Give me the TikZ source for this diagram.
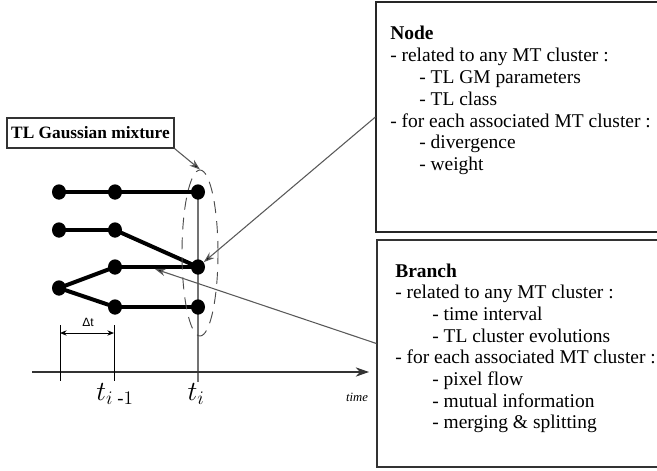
\documentclass[tikz,border=0pt]{standalone}
\usepackage{amsmath}
\usepackage{fontspec}
\setmainfont{Liberation Serif}
\newfontfamily\sansf{Liberation Sans}
\usetikzlibrary{shapes.geometric,arrows.meta,backgrounds,calc}
\begin{document}
\begin{tikzpicture}[x=0.75pt,y=-0.75pt,
  dot/.style={ellipse,fill=black,inner sep=0,minimum width=10.5pt,minimum height=11.5pt},
  branchline/.style={line width=3pt},
  infobox/.style={draw=black!85,line width=0.9pt,rectangle,inner sep=0},
  boxtext/.style={anchor=base west,inner sep=0,font=\rmfamily\fontsize{14.6}{16}\selectfont},
  ptr/.style={draw=black!65,line width=0.8pt,-{Stealth[length=8pt,width=5.5pt,fill=black]}},
  tick/.style={draw=black,line width=0.7pt}
]
\useasboundingbox (0,0) rectangle (657,471);

% info boxes
\node[infobox,minimum width=228pt,minimum height=172.5pt] (nodebox) at (528,117) {};
\node[infobox,draw=black!80,minimum width=227.25pt,minimum height=170.25pt] (branchbox) at (528.5,353.5) {};

% node box text
\node[boxtext,font=\rmfamily\fontsize{14.6}{16}\selectfont\bfseries] (n1) at (390,39) {Node};
\node[boxtext] (n2) at (390,61) {- related to any MT cluster :};
\node[boxtext] (n3) at (419,83) {- TL GM parameters};
\node[boxtext] (n4) at (419,105) {- TL class};
\node[boxtext] (n5) at (390,127) {- for each associated MT cluster :};
\node[boxtext] (n6) at (419,148) {- divergence};
\node[boxtext] (n7) at (419,170) {- weight};

% branch box text
\node[boxtext,font=\rmfamily\fontsize{14.6}{16}\selectfont\bfseries] (b1) at (395,277) {Branch};
\node[boxtext] (b2) at (395,298) {- related to any MT cluster :};
\node[boxtext] (b3) at (432,320) {- time interval};
\node[boxtext] (b4) at (432,342) {- TL cluster evolutions};
\node[boxtext] (b5) at (395,363) {- for each associated MT cluster :};
\node[boxtext] (b6) at (432,385) {- pixel flow};
\node[boxtext] (b7) at (432,407) {- mutual information};
\node[boxtext] (b8) at (432,428) {- merging \& splitting};

% TL Gaussian mixture label
\node[infobox,draw=black!80,minimum width=125.25pt,minimum height=22.5pt,
      font=\rmfamily\fontsize{13}{13}\selectfont\bfseries] (tlbox) at (90.5,133) {TL Gaussian mixture};

% dots
\node[dot] (a1) at (59,192) {};
\node[dot] (a2) at (115,192) {};
\node[dot] (a3) at (198,192) {};
\node[dot] (b1d) at (59,230) {};
\node[dot] (b2d) at (115,230) {};
\node[dot] (c2) at (115,267) {};
\node[dot] (c3) at (198,267) {};
\node[dot] (f1) at (59,288) {};
\node[dot] (d2) at (115,307) {};
\node[dot] (d3) at (198,307) {};

% dashed ellipse (Gaussian mixture)
\node[ellipse,draw=black!70,line width=0.7pt,dash pattern=on 9pt off 6pt,
      minimum width=27pt,minimum height=124.5pt,inner sep=0] (gm) at (200,253) {};

% axis and ticks
\coordinate (axs) at (32,372);
\coordinate (axe) at (369,372);
\coordinate (tibot) at (198,382);
\coordinate (k1t) at (60,325);
\coordinate (k1b) at (60,381);
\coordinate (k2t) at (114,325);
\coordinate (k2b) at (114,381);
\coordinate (dl) at (60,333);
\coordinate (dr) at (114,333);
\coordinate (bhit) at (155,269);

\begin{scope}[on background layer]
  \fill[white] (0,0) rectangle (657,471);
  \draw[draw=black!55,line width=0.8pt] (a3.center) -- (tibot);
  \draw[branchline] (a1.center) -- (a2.center) -- (a3.center);
  \draw[branchline] (b1d.center) -- (b2d.center);
  \draw[branchline] (b2d.center) -- (c3.center);
  \draw[branchline] (c2.center) -- (c3.center);
  \draw[branchline] (f1.center) -- (c2.center);
  \draw[branchline] (f1.center) -- (d2.center);
  \draw[branchline] (d2.center) -- (d3.center);
\end{scope}

\draw[draw=black!80,line width=0.8pt,-{Stealth[length=10pt,width=7pt]}] (axs) -- (axe);
\draw[tick] (k1t) -- (k1b);
\draw[tick] (k2t) -- (k2b);
\draw[tick,{Stealth[length=5pt,width=4pt]}-{Stealth[length=5pt,width=4pt]}] (dl) -- (dr);
\node[font=\sansf\fontsize{9}{9}\selectfont,inner sep=0] (dt) at (88,322) {Δt};

% time labels
\node[anchor=base,inner sep=0,font=\fontsize{20}{20}\selectfont] (tim1) at (115,400) {$t_{i\text{ -}1}$};
\node[anchor=base,inner sep=0,font=\fontsize{20}{20}\selectfont] (ti) at (196,400) {$t_i$};
\node[inner sep=0,font=\rmfamily\fontsize{9.5}{10}\selectfont\itshape] (time) at (357,397) {time};

% pointers
\draw[ptr] (tlbox.south east) -- (gm.north);
\draw[ptr] (nodebox.west) -- (c3);
\draw[ptr] ([yshift=7.5pt]branchbox.west) -- (bhit);
\end{tikzpicture}
\end{document}
